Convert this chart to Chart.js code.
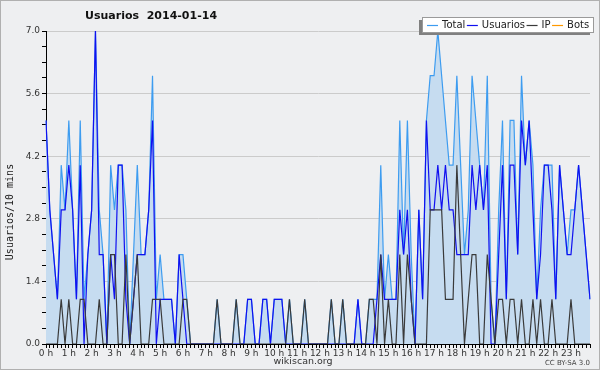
<!DOCTYPE html>
<html><head><meta charset="utf-8">
<script src="https://cdn.jsdelivr.net/npm/chart.js@4/dist/chart.umd.min.js"></script>
<style>html,body{margin:0;padding:0;background:#eeeff1;}canvas{display:block;}</style>
</head><body>
<canvas id="c" width="600" height="370"></canvas>
<script>
const chartTitle = 'Usuarios  2014-01-14';
const yAxisTitle = 'Usuarios/10 mins';
const footerText = 'wikiscan.org';
const licenseText = 'CC BY-SA 3.0';
const seriesNames = ['Total', 'Usuarios', 'IP', 'Bots'];
const hourLabels = ['0 h','1 h','2 h','3 h','4 h','5 h','6 h','7 h','8 h','9 h','10 h','11 h','12 h','13 h','14 h','15 h','16 h','17 h','18 h','19 h','20 h','21 h','22 h','23 h'];
const slotMinutes = ['00','10','20','30','40','50'];
const yTickValues = [0, 1.4, 2.8, 4.2, 5.6, 7.0];

const total = [
 5,3,2,1,4,3,5,3,1,5, 1,2,3,7,3,2,0,4,3,4, 4,3,0,2,4,2,2,3,6,1,
 2,1,1,1,0,2,2,1,0,0, 0,0,0,0,0,1,0,0,0,0, 1,0,0,1,1,0,0,1,1,0,
 1,1,1,0,1,0,0,0,1,0, 0,0,0,0,0,1,0,0,1,0, 0,0,1,0,0,1,1,1,4,1,
 2,1,1,5,2,5,2,0,3,1, 5,6,6,7,6,5,4,4,6,4, 2,3,6,5,4,3,6,1,0,3,
 5,1,5,5,2,6,4,5,4,1, 3,4,4,4,1,4,3,2,3,3, 4,3,2,1];
const usuarios = [
 5,3,2,1,3,3,4,3,1,4, 0,2,3,7,2,2,0,2,1,4, 4,1,0,1,2,2,2,3,5,0,
 1,1,1,1,0,2,1,0,0,0, 0,0,0,0,0,0,0,0,0,0, 0,0,0,1,1,0,0,1,1,0,
 1,1,1,0,0,0,0,0,0,0, 0,0,0,0,0,0,0,0,0,0, 0,0,1,0,0,0,0,1,2,1,
 1,1,1,3,2,3,1,0,3,1, 5,3,3,4,3,4,3,3,2,2, 2,2,4,3,4,3,4,0,0,2,
 4,1,4,4,2,5,4,5,3,1, 2,4,4,3,1,4,3,2,2,3, 4,3,2,1];
const ip = [
 0,0,0,0,1,0,1,0,0,1, 1,0,0,0,1,0,0,2,2,0, 0,2,0,1,2,0,0,0,1,1,
 1,0,0,0,0,0,1,1,0,0, 0,0,0,0,0,1,0,0,0,0, 1,0,0,0,0,0,0,0,0,0,
 0,0,0,0,1,0,0,0,1,0, 0,0,0,0,0,1,0,0,1,0, 0,0,0,0,0,1,1,0,2,0,
 1,0,0,2,0,2,1,0,0,0, 0,3,3,3,3,1,1,1,4,2, 0,1,2,2,0,0,2,1,0,1,
 1,0,1,1,0,1,0,0,1,0, 1,0,0,1,0,0,0,0,1,0, 0,0,0,0];
const bots = [
 0,0,0,0,0,0,0,0,0,0, 0,0,0,0,0,0,0,0,0,0, 0,0,0,0,0,0,0,0,0,0,
 0,0,0,0,0,0,0,0,0,0, 0,0,0,0,0,0,0,0,0,0, 0,0,0,0,0,0,0,0,0,0,
 0,0,0,0,0,0,0,0,0,0, 0,0,0,0,0,0,0,0,0,0, 0,0,0,0,0,0,0,0,0,0,
 0,0,0,0,0,0,0,0,0,0, 0,0,0,0,0,0,0,0,0,0, 0,0,0,0,0,0,0,0,0,0,
 0,0,0,0,0,0,0,0,0,0, 0,0,0,0,0,0,0,0,0,0, 0,0,0,0];

// categories built from hour + minute lists (one slot per 10 minutes)
const categories = [];
hourLabels.forEach((h, hi) => slotMinutes.forEach(m => categories.push(hi + ':' + m)));

const COLORS = { bg:'#eeeff1', total:'#3d9cf0', fill:'rgb(198,220,240)', users:'#1010f0', ip:'#3a3a3a', bots:'#ff9900', grid:'#cbcbcb', text:'#333' };
const isMajor = v => yTickValues.some(t => Math.abs(t - v) < 1e-6);

const decor = {
  id: 'decor',
  beforeDraw(chart) {
    const c = chart.ctx; c.save();
    c.fillStyle = COLORS.bg; c.fillRect(0, 0, chart.width, chart.height);
    c.restore();
  },
  afterDraw(chart) {
    const c = chart.ctx; c.save();
    // title
    c.fillStyle = '#111'; c.font = 'bold 11px "DejaVu Sans"'; c.textBaseline = 'middle'; c.textAlign = 'left';
    c.fillText(chartTitle, 85, 16);
    // y-axis title
    c.save(); c.translate(10, 212); c.rotate(-Math.PI / 2);
    c.font = '10px "DejaVu Sans Mono"'; c.textAlign = 'center'; c.fillStyle = '#222';
    c.fillText(yAxisTitle, 0, 0); c.restore();
    // footer
    c.font = '9.5px "DejaVu Sans"'; c.textAlign = 'center'; c.fillStyle = '#333';
    c.fillText(footerText, 303, 362);
    c.font = '7px "DejaVu Sans"'; c.textAlign = 'right'; c.fillStyle = '#444';
    c.fillText(licenseText, 590, 363);
    // legend with shadow
    c.fillStyle = '#808080'; c.fillRect(419, 20, 171, 15);
    c.fillStyle = '#fff'; c.fillRect(422, 17, 172, 16);
    c.strokeStyle = '#9a9a9a'; c.lineWidth = 1; c.strokeRect(422.5, 17.5, 171, 15);
    const cols = [COLORS.total, COLORS.users, COLORS.ip, COLORS.bots];
    c.font = '10px "DejaVu Sans"'; c.textAlign = 'left'; c.textBaseline = 'middle';
    let x = 427;
    seriesNames.forEach((n, i) => {
      c.strokeStyle = cols[i]; c.lineWidth = 1.2;
      c.beginPath(); c.moveTo(x, 25.5); c.lineTo(x + 11, 25.5); c.stroke();
      c.fillStyle = '#222'; c.fillText(n, x + 15, 25);
      x += 15 + c.measureText(n).width + 1.5;
    });
    // outer border
    c.strokeStyle = '#b0b0b0'; c.lineWidth = 1; c.strokeRect(0.5, 0.5, chart.width - 1, chart.height - 1);
    c.restore();
  }
};

const lineDs = (label, data, color, order, extra) => Object.assign({
  label, data, borderColor: color, borderWidth: 1.2, pointRadius: 0, tension: 0, fill: false, order
}, extra || {});

new Chart(document.getElementById('c'), {
  type: 'line',
  data: {
    labels: categories,
    datasets: [
      lineDs(seriesNames[0], total, COLORS.total, 3, { fill: 'origin', backgroundColor: COLORS.fill }),
      lineDs(seriesNames[1], usuarios, COLORS.users, 2),
      lineDs(seriesNames[2], ip, COLORS.ip, 1),
      lineDs(seriesNames[3], bots, COLORS.bots, 4)
    ]
  },
  options: {
    responsive: false, animation: false, devicePixelRatio: 1,
    layout: { padding: { left: 0, right: 10, top: 31, bottom: 10 } },
    plugins: { legend: { display: false }, title: { display: false }, tooltip: { enabled: false } },
    scales: {
      x: {
        offset: false,
        ticks: { autoSkip: false, maxRotation: 0, minRotation: 0, padding: 0,
          callback: (v, i) => (i % 6 === 0 ? hourLabels[i / 6] : ''),
          font: { family: 'DejaVu Sans', size: 9 }, color: COLORS.text },
        grid: { drawOnChartArea: false, tickColor: '#000', tickLength: 4 },
        border: { color: '#000', width: 1 },
        afterFit: s => { s.height = 16; }
      },
      y: {
        min: 0, max: 7,
        ticks: { stepSize: 0.35, autoSkip: false, padding: 2,
          callback: v => (isMajor(v) ? v.toFixed(1) : ''),
          font: { family: 'DejaVu Sans', size: 9 }, color: COLORS.text },
        grid: { color: ctx => (isMajor(ctx.tick.value) ? COLORS.grid : 'rgba(0,0,0,0)'), tickColor: '#000', tickLength: 4 },
        border: { color: '#000', width: 1 },
        afterFit: s => { s.width = 46; }
      }
    }
  },
  plugins: [decor]
});
</script>
</body></html>
